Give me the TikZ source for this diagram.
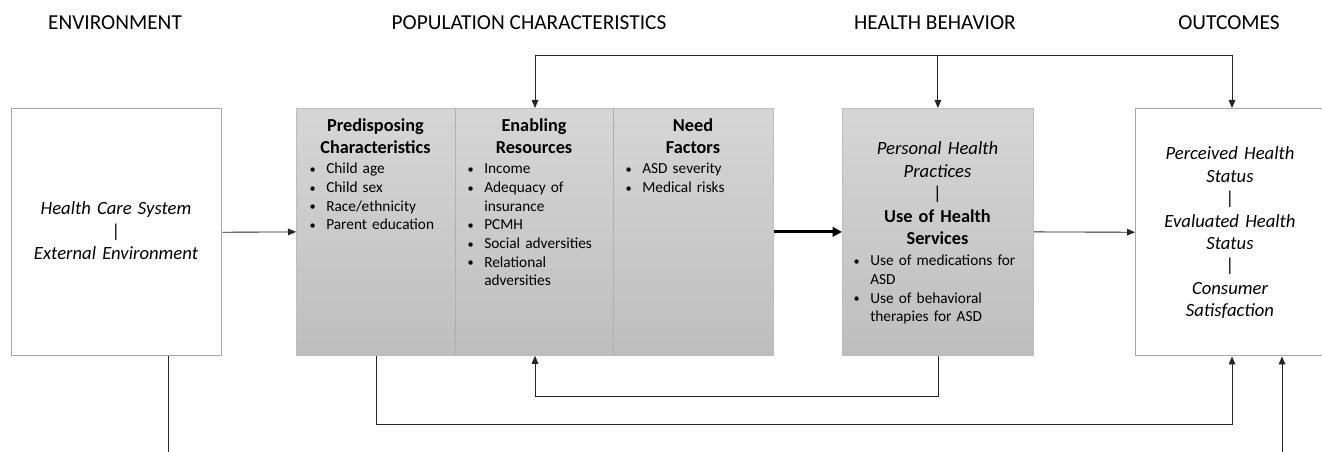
\documentclass[tikz,border=0pt]{standalone}
\usepackage{fontspec}
\usepackage{graphicx}
\setmainfont{Carlito}
\usetikzlibrary{arrows.meta}
\definecolor{boxline}{HTML}{A6A6A6}
\definecolor{panelline}{HTML}{BDBDBD}
\definecolor{panelsep}{HTML}{B0B0B0}
\definecolor{paneltop}{HTML}{D6D6D6}
\definecolor{panelbot}{HTML}{BEBEBE}
\newcommand{\bul}{\makebox[13.5pt][l]{\hspace{1pt}\raisebox{0.3pt}{\scalebox{0.8}{\textbullet}}}}
\newcommand{\ind}{\hspace*{13.5pt}}
\newcommand{\vbar}{{\upshape|}}
\begin{document}
\begin{tikzpicture}[x=0.75pt,y=-0.75pt,
  title/.style={font=\fontsize{16}{19}\selectfont, anchor=base},
  whitebox/.style={draw=boxline, line width=1.1pt, fill=white, anchor=north west, inner sep=0pt},
  panel/.style={draw=panelline, line width=0.6pt, top color=paneltop, bottom color=panelbot, anchor=north west, inner sep=0pt},
  head/.style={font=\bfseries\fontsize{13.7}{16.5}\selectfont, align=center, anchor=base, text width=150pt, inner sep=0pt},
  ital/.style={font=\itshape\fontsize{14}{16.8}\selectfont, align=center, anchor=base, text width=150pt, inner sep=0pt},
  items/.style={font=\fontsize{11.5}{14}\selectfont, align=left, anchor=base west, text width=135pt, inner sep=0pt},
  conn/.style={draw=black!85, line width=0.65pt},
  arr/.style={conn, -{Triangle[length=6pt,width=5pt]}},
  bigarr/.style={draw=black, line width=2.2pt, -{Triangle[length=7pt,width=7pt]}}]
\useasboundingbox (0,0) rectangle (1322,452);
\clip (0,0) rectangle (1322,452);

% column titles
\node[title] (tEnv) at (115,30) {ENVIRONMENT};
\node[title] (tPop) at (529,30) {POPULATION CHARACTERISTICS};
\node[title] (tBeh) at (935,30) {HEALTH BEHAVIOR};
\node[title] (tOut) at (1229,30) {OUTCOMES};

% boxes
\node[whitebox, minimum width=157.5pt, minimum height=185.25pt] (env) at (11,108) {};
\node[panel, minimum width=357.75pt, minimum height=185.25pt] (pop) at (296,108) {};
\node[panel, minimum width=143.25pt, minimum height=185.25pt] (hb) at (842,108) {};
\node[whitebox, minimum width=160pt, minimum height=185.25pt] (out) at (1135,108) {};

% separators inside the population panel
\coordinate (sepA) at (455,0);
\coordinate (sepB) at (613,0);
\draw[panelsep, line width=0.6pt] (sepA |- pop.north) -- (sepA |- pop.south);
\draw[panelsep, line width=0.6pt] (sepB |- pop.north) -- (sepB |- pop.south);

% environment text
\node[ital] (envtxt) at (116,215) {Health Care System\\ \vbar\\ External Environment};

% population characteristics
\node[head] (hPre) at (375.5,132) {Predisposing\\ Characteristics};
\node[items] (lPre) at (308,174) {\bul Child age\\ \bul Child sex\\ \bul Race/ethnicity\\ \bul Parent education};
\node[head] (hEna) at (534,132) {Enabling\\ Resources};
\node[items] (lEna) at (466,174) {\bul Income\\ \bul Adequacy of\\ \ind insurance\\ \bul PCMH\\ \bul Social adversities\\ \bul Relational\\ \ind adversities};
\node[head] (hNeed) at (693,132) {Need\\ Factors};
\node[items] (lNeed) at (624,174) {\bul ASD severity\\ \bul Medical risks};

% health behavior
\node[ital] (hbtxt) at (937.5,155) {Personal Health\\ Practices\\ \vbar};
\node[head] (hUse) at (937.5,223) {Use of Health\\ Services};
\node[items] (lUse) at (852,266) {\bul Use of medications for\\ \ind ASD\\ \bul Use of behavioral\\ \ind therapies for ASD};

% outcomes
\node[ital] (outtxt) at (1230,160) {Perceived Health\\ Status\\ \vbar\\ Evaluated Health\\ Status\\ \vbar\\ Consumer\\ Satisfaction};

% main flow
\draw[arr] (env.east) -- (pop.west);
\draw[bigarr] (pop.east) -- (hb.west);
\draw[arr] (hb.east) -- (out.west);

% feedback bus along the top
\coordinate (busL) at (535,55);
\coordinate (busR) at (1232,55);
\draw[conn] (busL) -- (busR);
\draw[arr] (busL) -- (busL |- pop.north);
\draw[arr] (hb.north |- busL) -- (hb.north);
\draw[arr] (busR) -- (busR |- out.north);

% feedback loops along the bottom
\coordinate (loopIn) at (535,396);
\coordinate (loopOut) at (938,396);
\draw[arr] (loopOut |- hb.south) -- (loopOut) -- (loopIn) -- (loopIn |- pop.south);
\coordinate (outerL) at (376,424);
\coordinate (outerR) at (1232,424);
\draw[arr] (outerL |- pop.south) -- (outerL) -- (outerR) -- (outerR |- out.south);

% open ends running off the bottom
\coordinate (envFoot) at (168,452);
\draw[conn] (envFoot |- env.south) -- (envFoot);
\coordinate (outFoot) at (1282,452);
\draw[arr] (outFoot) -- (outFoot |- out.south);
\end{tikzpicture}
\end{document}
